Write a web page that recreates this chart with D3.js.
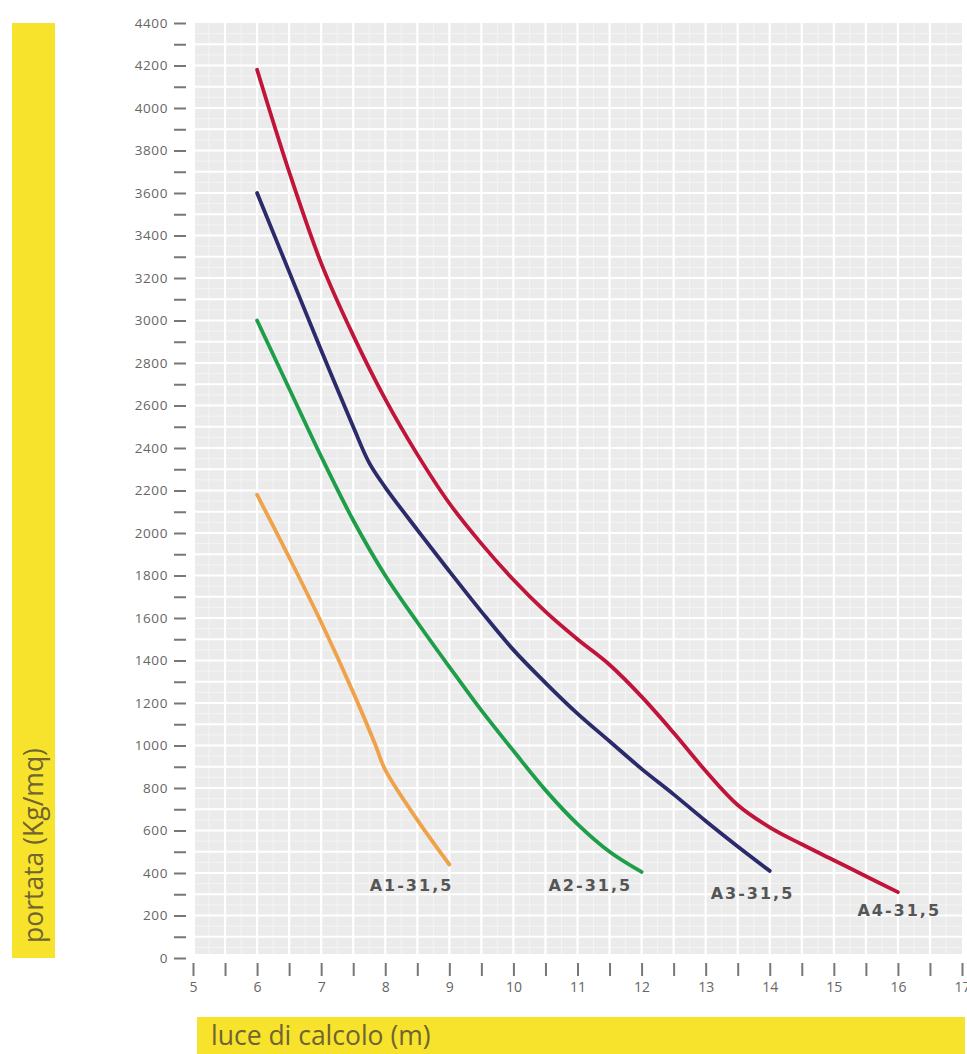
<!DOCTYPE html>
<html>
<head>
<meta charset="utf-8">
<script src="https://cdn.jsdelivr.net/npm/d3@7"></script>
<style>
  html, body { margin: 0; padding: 0; background: #ffffff; }
  svg { display: block; }
</style>
</head>
<body>
<svg id="chart" width="967" height="1054"></svg>
<script>
// ---------- DATA ----------
const seriesNames = ["A1-31,5", "A2-31,5", "A3-31,5", "A4-31,5"];
const seriesColors = ["#efa24a", "#1f9e4a", "#2b2a6b", "#c0143a"];

const a1 = [[6, 2180], [6.5, 1885], [7, 1580], [7.5, 1250], [7.85, 1000], [8, 885], [8.5, 650], [9, 440]];
const a2 = [[6, 3000], [6.5, 2680], [7, 2360], [7.5, 2060], [8, 1800], [8.5, 1580], [9, 1370], [9.5, 1165], [10, 975], [10.5, 790], [11, 630], [11.5, 500], [12, 405]];
const a3 = [[6, 3600], [6.5, 3230], [7, 2860], [7.5, 2500], [7.75, 2330], [8, 2215], [8.5, 2015], [9, 1820], [9.5, 1630], [10, 1450], [10.5, 1295], [11, 1150], [11.5, 1020], [12, 890], [12.5, 770], [13, 645], [13.5, 525], [14, 410]];
const a4 = [[6, 4180], [6.5, 3700], [7, 3270], [7.5, 2930], [8, 2630], [8.5, 2370], [9, 2140], [9.5, 1950], [10, 1780], [10.5, 1630], [11, 1500], [11.5, 1380], [12, 1230], [12.5, 1060], [13, 880], [13.5, 720], [14, 615], [14.5, 535], [15, 460], [15.5, 385], [16, 310]];
const seriesData = [a1, a2, a3, a4];

// label anchors in data units (centre x, baseline y)
const labelX = [8.41, 11.2, 13.73, 16.02];
const labelY = [315, 315, 278, 198];

const xTicks = [5, 6, 7, 8, 9, 10, 11, 12, 13, 14, 15, 16, 17];
const yTicks = [0, 200, 400, 600, 800, 1000, 1200, 1400, 1600, 1800, 2000, 2200, 2400, 2600, 2800, 3000, 3200, 3400, 3600, 3800, 4000, 4200, 4400];
const yTitle = "portata (Kg/mq)";
const xTitle = "luce di calcolo (m)";

// ---------- LAYOUT ----------
const svg = d3.select("#chart");
const x = d3.scaleLinear().domain([5, 17]).range([193, 962]);
const y = d3.scaleLinear().domain([0, 4400]).range([958, 23]);
const yellow = "#f8e32c";
const titleColor = "#6f6432";

// yellow title bars
svg.append("rect").attr("x", 12).attr("y", 23).attr("width", 43).attr("height", 935).attr("fill", yellow);
svg.append("text")
  .attr("transform", "translate(43,943) rotate(-90)")
  .attr("font-family", "Open Sans, sans-serif").attr("font-size", 26.5)
  .attr("fill", titleColor).text(yTitle);

svg.append("rect").attr("x", 197).attr("y", 1017).attr("width", 768).attr("height", 37).attr("fill", yellow);
svg.append("text")
  .attr("x", 211).attr("y", 1045)
  .attr("font-family", "Open Sans, sans-serif").attr("font-size", 26.5)
  .attr("fill", titleColor).text(xTitle);

// grid background
const g = svg.append("g");
g.append("rect")
  .attr("x", x(5) + 2).attr("y", y(4400))
  .attr("width", x(17) - x(5) - 2).attr("height", y(0) - y(4400) - 4)
  .attr("fill", "#ebebeb");

const fineX = d3.range(5.25, 17, 0.5);
const fineY = d3.range(50, 4400, 100);
g.selectAll(".fx").data(fineX).join("line")
  .attr("x1", d => x(d)).attr("x2", d => x(d))
  .attr("y1", y(4400)).attr("y2", y(0) - 4)
  .attr("stroke", "#f4f4f4").attr("stroke-width", 1);
g.selectAll(".fy").data(fineY).join("line")
  .attr("x1", x(5) + 2).attr("x2", x(17))
  .attr("y1", d => y(d)).attr("y2", d => y(d))
  .attr("stroke", "#f4f4f4").attr("stroke-width", 1);

const gridX = d3.range(5.5, 17, 0.5);
const gridY = d3.range(100, 4400, 100);
g.selectAll(".gx").data(gridX).join("line")
  .attr("x1", d => x(d)).attr("x2", d => x(d))
  .attr("y1", y(4400)).attr("y2", y(0) - 4)
  .attr("stroke", "#ffffff").attr("stroke-width", 2.2);
g.selectAll(".gy").data(gridY).join("line")
  .attr("x1", x(5) + 2).attr("x2", x(17))
  .attr("y1", d => y(d)).attr("y2", d => y(d))
  .attr("stroke", "#ffffff").attr("stroke-width", 2.2);

// y axis: ticks every 100, labels every 200
const yAxis = d3.axisLeft(y)
  .tickValues(d3.range(0, 4401, 100))
  .tickSize(0)
  .tickFormat(d => (yTicks.includes(d) ? d : ""));
const ya = svg.append("g").attr("transform", "translate(170,0)").call(yAxis);
ya.select(".domain").remove();
ya.selectAll(".tick text")
  .attr("x", -2)
  .attr("font-family", "Open Sans, sans-serif").attr("font-size", 13.5)
  .attr("letter-spacing", 0.6)
  .attr("fill", "#666");
ya.selectAll(".tick").append("line")
  .attr("x1", 4).attr("x2", 16).attr("y1", 0).attr("y2", 0)
  .attr("stroke", "#777").attr("stroke-width", 2);

// x axis: ticks every 0.5, labels at integers
const xAxis = d3.axisBottom(x)
  .tickValues(d3.range(5, 17.01, 0.5))
  .tickSize(0)
  .tickFormat(d => (xTicks.includes(d) ? d : ""));
const xa = svg.append("g").attr("transform", "translate(0,962)").call(xAxis);
xa.select(".domain").remove();
xa.selectAll(".tick text")
  .attr("y", 20)
  .attr("font-family", "Open Sans, sans-serif").attr("font-size", 14)
  .attr("fill", "#666");
xa.selectAll(".tick").append("line")
  .attr("x1", 0).attr("x2", 0).attr("y1", 1).attr("y2", 14)
  .attr("stroke", "#777").attr("stroke-width", 2);

// curves
const line = d3.line().x(d => x(d[0])).y(d => y(d[1])).curve(d3.curveCatmullRom.alpha(0.5));
svg.append("g").selectAll("path").data(seriesData).join("path")
  .attr("d", line)
  .attr("fill", "none")
  .attr("stroke", (d, i) => seriesColors[i])
  .attr("stroke-width", 3.8)
  .attr("stroke-linecap", "round")
  .attr("stroke-linejoin", "round");

// curve labels
svg.append("g").selectAll("text").data(seriesNames).join("text")
  .attr("x", (d, i) => x(labelX[i]))
  .attr("y", (d, i) => y(labelY[i]))
  .attr("text-anchor", "middle")
  .attr("font-family", "DejaVu Sans, sans-serif").attr("font-weight", "bold")
  .attr("font-size", 16).attr("letter-spacing", 2)
  .attr("fill", "#555")
  .text(d => d);
</script>
</body>
</html>
